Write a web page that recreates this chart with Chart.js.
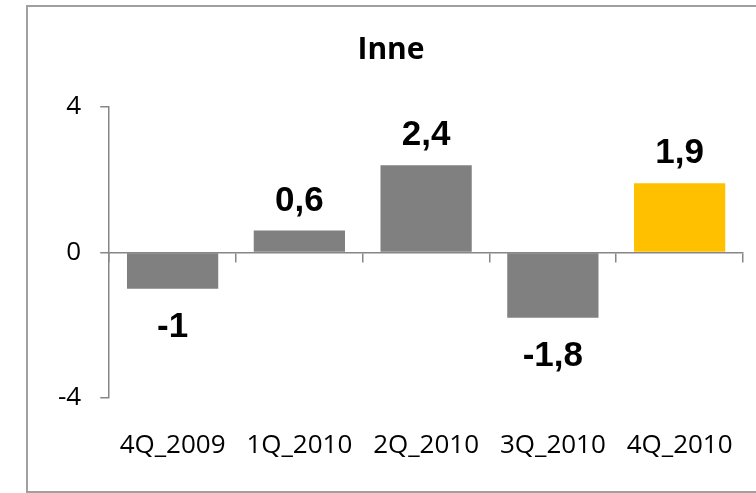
<!DOCTYPE html>
<html>
<head>
<meta charset="utf-8">
<script src="https://cdn.jsdelivr.net/npm/chart.js@4.4.1/dist/chart.umd.min.js"></script>
<style>
  html, body { margin: 0; padding: 0; background: #fff; overflow: hidden; width: 756px; height: 493px; }
  #frame { position: absolute; left: 26px; top: 5px; width: 746px; height: 488px; box-sizing: border-box; border: 2px solid #a0a0a0; }
  #box { position: relative; width: 742px; height: 484px; }
</style>
</head>
<body>
<div id="frame"><div id="box"><canvas id="innerChart"></canvas></div></div>
<script>
// data
var quarters = ["4Q_2009", "1Q_2010", "2Q_2010", "3Q_2010", "4Q_2010"];
var values = [-1, 0.6, 2.4, -1.8, 1.9];
var barColors = ["#808080", "#808080", "#808080", "#808080", "#FFC000"];
var yTicks = [-4, 0, 4];

var axisGray = "#868686";

// value labels above / below each bar, polish decimal comma
var valueLabels = {
    id: 'valueLabels',
    afterDatasetsDraw: function(chart) {
        var ctx = chart.ctx;
        var meta = chart.getDatasetMeta(0);
        ctx.save();
        ctx.font = "bold 35px 'Liberation Sans', Arial, sans-serif";
        ctx.fillStyle = "#000";
        ctx.textAlign = "center";
        ctx.textBaseline = "alphabetic";
        meta.data.forEach(function(bar, i) {
            var v = values[i];
            var txt = String(v).replace(".", ",");
            var y = v >= 0 ? bar.y - 20 : bar.y + 48;
            ctx.fillText(txt, bar.x, y);
        });
        ctx.restore();
    }
};

var innerChart = new Chart(document.getElementById('innerChart'), {
    type: 'bar',
    data: {
        labels: quarters,
        datasets: [{
            data: values,
            backgroundColor: barColors,
            borderWidth: 0,
            barPercentage: 0.72,
            categoryPercentage: 1.0
        }]
    },
    options: {
        responsive: true,
        maintainAspectRatio: false,
        animation: false,
        layout: {
            padding: { left: 11, right: 27, top: 14, bottom: 6 }
        },
        plugins: {
            legend: { display: false },
            tooltip: { enabled: false },
            title: {
                display: true,
                text: 'Inne',
                color: '#000',
                font: { family: "'Open Sans'", size: 30, weight: 'bold' },
                padding: { top: 11, bottom: 39 }
            }
        },
        scales: {
            x: {
                type: 'category',
                offset: true,
                border: { display: false },
                grid: { display: false },
                ticks: {
                    color: '#000',
                    padding: 24,
                    font: { family: "'Open Sans'", size: 26 }
                }
            },
            zeroLine: {
                type: 'category',
                axis: 'x',
                labels: quarters,
                position: { y: 0 },
                offset: true,
                border: { display: true, color: axisGray, width: 1.5 },
                grid: {
                    display: true,
                    offset: true,
                    drawOnChartArea: false,
                    drawTicks: true,
                    tickLength: 9,
                    color: axisGray,
                    lineWidth: 1.5
                },
                ticks: { display: false }
            },
            y: {
                min: -4,
                max: 4,
                afterBuildTicks: function(scale) {
                    scale.ticks = yTicks.map(function(v) { return { value: v }; });
                },
                border: { display: true, color: axisGray, width: 1.5 },
                grid: {
                    drawOnChartArea: false,
                    drawTicks: true,
                    tickLength: 9,
                    color: axisGray,
                    lineWidth: 1.5
                },
                ticks: {
                    color: '#000',
                    padding: 19,
                    font: { family: "'Open Sans'", size: 26 }
                }
            }
        }
    },
    plugins: [valueLabels]
});
</script>
</body>
</html>
